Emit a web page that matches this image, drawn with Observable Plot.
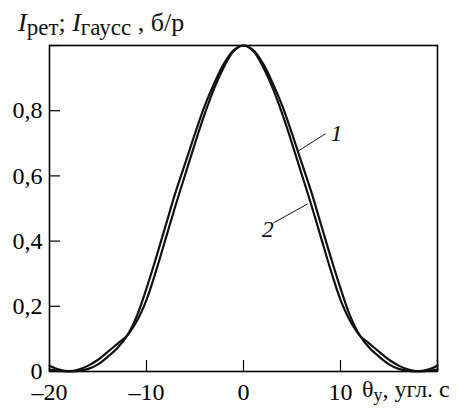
<!DOCTYPE html>
<html><head><meta charset="utf-8">
<script src="https://cdn.jsdelivr.net/npm/d3@7"></script>
<script src="https://cdn.jsdelivr.net/npm/@observablehq/plot@0.6"></script>
<style>body{margin:0;background:#fff} svg{font-family:"Liberation Serif","Times New Roman",serif}</style>
</head><body><div id="chart"></div>
<script>
// angle θy, arcsec
const theta = [-20,-19,-18,-17,-16,-15,-14,-13,-12,-11,-10,-9,-8,-7,-6,-5,-4,-3,-2,-1,0,1,2,3,4,5,6,7,8,9,10,11,12,13,14,15,16,17,18,19,20];
// curve 1 (I рет)
const curve1 = [0.006,0.002,0.0,0.002,0.008,0.022,0.045,0.072,0.11,0.17,0.255,0.35,0.45,0.55,0.64,0.73,0.815,0.885,0.945,0.986,1.0,0.986,0.945,0.885,0.815,0.73,0.64,0.55,0.45,0.35,0.255,0.17,0.11,0.072,0.045,0.022,0.008,0.002,0.0,0.002,0.006];
// curve 2 (I гаусс)
const curve2 = [0.018,0.006,0.001,0.006,0.018,0.036,0.06,0.085,0.11,0.155,0.22,0.31,0.41,0.51,0.605,0.70,0.79,0.87,0.935,0.983,1.0,0.983,0.935,0.87,0.79,0.70,0.605,0.51,0.41,0.31,0.22,0.155,0.11,0.085,0.06,0.036,0.018,0.006,0.001,0.006,0.018];
const xTicks = [-20,-10,0,10,20];
const xTickLabels = ["–20","–10","0","10",""];
const yTicks = [0,0.2,0.4,0.6,0.8,1.0];
const yTickLabels = ["0","0,2","0,4","0,6","0,8",""];
// curve labels and leader lines (data coordinates)
const labelText = ["1","2"];
const labelX = [9.6,2.5];
const labelY = [0.732,0.435];
const leaderX1 = [5.67,3.1];
const leaderY1 = [0.677,0.456];
const leaderX2 = [8.45,6.6];
const leaderY2 = [0.729,0.514];

const d1 = theta.map((t,i)=>({t, v: curve1[i]}));
const d2 = theta.map((t,i)=>({t, v: curve2[i]}));
const labels = labelText.map((s,i)=>({s, x: labelX[i], y: labelY[i]}));
const leaders = labelText.map((s,i)=>({x1: leaderX1[i], y1: leaderY1[i], x2: leaderX2[i], y2: leaderY2[i]}));

const chart = Plot.plot({
  width: 459, height: 410,
  marginLeft: 49, marginRight: 22, marginTop: 45, marginBottom: 39,
  style: {fontFamily: '"Liberation Serif","Times New Roman",serif', background: "#fff", color: "#000"},
  x: {domain: [-20,20]},
  y: {domain: [0,1]},
  marks: [
    Plot.axisX({ticks: xTicks, tickSize: -11, tickFormat: () => "", label: null, strokeWidth: 1.2}),
    Plot.axisX({ticks: xTicks, tickSize: 0, tickPadding: 11, tickFormat: d => xTickLabels[xTicks.indexOf(d)], label: null, fontSize: 24}),
    Plot.axisY({ticks: yTicks, tickSize: -11, tickFormat: () => "", label: null, strokeWidth: 1.2}),
    Plot.axisY({ticks: yTicks, tickSize: 0, tickPadding: 7, tickFormat: d => yTickLabels[yTicks.indexOf(d)], label: null, fontSize: 24}),
    Plot.frame({strokeWidth: 1.6}),
    Plot.line(d1, {x: "t", y: "v", stroke: "#111", strokeWidth: 2.2, curve: "catmull-rom"}),
    Plot.line(d2, {x: "t", y: "v", stroke: "#111", strokeWidth: 2.2, curve: "catmull-rom"}),
    Plot.link(leaders, {x1: "x1", y1: "y1", x2: "x2", y2: "y2", stroke: "#111", strokeWidth: 1}),
    Plot.text(labels, {x: "x", y: "y", text: "s", fontSize: 24, fontStyle: "italic", fill: "#111"})
  ]
});

const svg = d3.select(chart);
// title
const title = svg.append("text").attr("x", 18).attr("y", 31).attr("font-size", 26).attr("fill", "#111").attr("text-anchor", "start");
title.append("tspan").attr("font-style", "italic").text("I");
title.append("tspan").attr("dy", 4).attr("font-size", 23).text("рет");
title.append("tspan").attr("dy", -4).text("; ");
title.append("tspan").attr("font-style", "italic").text("I");
title.append("tspan").attr("dy", 4).attr("font-size", 23).text("гаусс");
title.append("tspan").attr("dy", -4).text(" , б/р");
// x axis label
const xs = chart.scale("x");
const xl = svg.append("text").attr("x", xs.apply(10) + 22).attr("y", 397).attr("font-size", 24).attr("fill", "#111").attr("text-anchor", "start");
xl.append("tspan").text("θ");
xl.append("tspan").attr("dy", 4).attr("font-size", 18).text("y");
xl.append("tspan").attr("dy", -4).text(", угл. с");

document.getElementById("chart").appendChild(chart);
</script>
</body></html>
